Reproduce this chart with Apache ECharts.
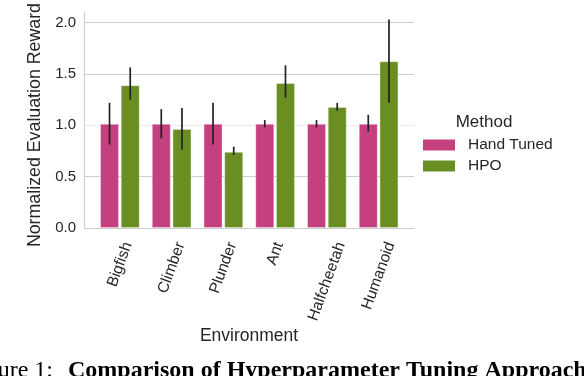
<!DOCTYPE html>
<html><head><meta charset="utf-8">
<script src="https://cdn.jsdelivr.net/npm/echarts@6/dist/echarts.min.js"></script>
<style>html,body{margin:0;padding:0;background:#fff}#c{width:584px;height:376px}</style>
</head><body><div id="c"></div>
<script>
// ---- data ----
const categories = ['Bigfish', 'Climber', 'Plunder', 'Ant', 'Halfcheetah', 'Humanoid'];
const seriesNames = ['Hand Tuned', 'HPO'];
const handTuned = [1.0, 1.0, 1.0, 1.0, 1.0, 1.0];
const handTunedLow = [0.80, 0.86, 0.80, 0.965, 0.965, 0.925];
const handTunedHigh = [1.20, 1.14, 1.20, 1.035, 1.035, 1.085];
const hpo = [1.37, 0.95, 0.73, 1.39, 1.16, 1.60];
const hpoLow = [1.23, 0.75, 0.70, 1.25, 1.125, 1.20];
const hpoHigh = [1.54, 1.15, 0.78, 1.56, 1.20, 2.00];
const yTickLabels = ['0.0', '0.5', '1.0', '1.5', '2.0'];
const yMax = 2.1;

// ---- styles ----
const SANS = '"Liberation Sans", Arial, sans-serif';
const SERIF = '"Liberation Serif", "Times New Roman", serif';
const INK = '#262626';
const GRID_COLOR = '#cccccc';
const PINK = '#C4407F';
const GREEN = '#6B8E23';
const ERR = '#222222';
const BAR_W = 19, BAR_GAP_PX = 1.7;
const TICK_FS = 15.5, LABEL_ROT = 70, LABEL_PAD = 12;

const mctx = document.createElement('canvas').getContext('2d');
function textW(t, fs, fam) { mctx.font = fs + 'px ' + fam; return mctx.measureText(t).width; }

function errRenderer(sign) {
  return function (params, api) {
    const i = api.value(0);
    const lo = api.coord([i, api.value(1)]);
    const hi = api.coord([i, api.value(2)]);
    const x = lo[0] + sign * (BAR_W + BAR_GAP_PX) / 2;
    return { type: 'line', shape: { x1: x, y1: lo[1], x2: x, y2: hi[1] },
      style: { stroke: ERR, lineWidth: 1.7 } };
  };
}

const chart = echarts.init(document.getElementById('c'), null, { renderer: 'canvas' });
chart.setOption({
  animation: false,
  backgroundColor: '#ffffff',
  grid: [
    { left: 84, right: 170, top: 9, bottom: 148 },
    { left: 94, right: 179.5, top: 9, bottom: 148 }
  ],
  xAxis: [
    { gridIndex: 0, type: 'value', min: 0, max: 1,
      axisLine: { show: true, lineStyle: { color: GRID_COLOR, width: 1 } },
      axisTick: { show: false }, axisLabel: { show: false }, splitLine: { show: false },
      name: 'Environment', nameLocation: 'middle', nameGap: 99,
      nameTextStyle: { fontSize: 17.5, color: INK, fontFamily: SANS } },
    { gridIndex: 1, type: 'category', data: categories,
      axisLine: { show: false }, axisTick: { show: false }, axisLabel: { show: false }, splitLine: { show: false } }
  ],
  yAxis: [
    { gridIndex: 0, type: 'value', min: 0, max: yMax, interval: 0.5,
      axisLine: { show: true, lineStyle: { color: GRID_COLOR, width: 1 } },
      axisTick: { show: false },
      axisLabel: { color: INK, fontSize: 15, fontFamily: SANS, margin: 8, showMaxLabel: false,
        formatter: v => { const k = Math.round(v / 0.5); return Math.abs(v - k * 0.5) < 1e-9 ? (yTickLabels[k] || '') : ''; } },
      splitLine: { show: true, showMaxLine: false,
        lineStyle: { color: [GRID_COLOR, GRID_COLOR, '#ebebeb', GRID_COLOR, GRID_COLOR, GRID_COLOR], width: 1 } },
      name: 'Normalized Evaluation Reward', nameLocation: 'middle', nameGap: 35,
      nameTextStyle: { fontSize: 17.8, color: INK, fontFamily: SANS, padding: [0, 10, 0, 0] } },
    { gridIndex: 1, type: 'value', min: 0, max: yMax, show: false, splitLine: { show: false } }
  ],
  legend: {
    orient: 'vertical', left: 418, top: 132, itemWidth: 32, itemHeight: 11, itemGap: 5,
    icon: 'rect', data: seriesNames,
    itemStyle: { borderWidth: 0 },
    textStyle: { fontSize: 15.5, color: INK, fontFamily: SANS, padding: [0, 0, 0, 8] }
  },
  graphic: [
    { type: 'text', x: 484, y: 122, style: { text: 'Method', fontSize: 17, fontFamily: SANS, fill: INK, align: 'center', verticalAlign: 'middle' } },
    { type: 'text', x: 53, y: 371, style: { text: 'Figure 1:', fontSize: 24, fontFamily: SERIF, fill: '#000', align: 'right', verticalAlign: 'middle' } },
    { type: 'text', x: 68, y: 371, style: { text: 'Comparison of Hyperparameter Tuning Approaches', fontSize: 24, fontWeight: 'bold', fontFamily: SERIF, fill: '#000', align: 'left', verticalAlign: 'middle' } }
  ],
  series: [
    { name: seriesNames[0], type: 'bar', xAxisIndex: 1, yAxisIndex: 1, data: handTuned,
      barWidth: BAR_W, barGap: (BAR_GAP_PX / BAR_W * 100) + '%',
      itemStyle: { color: PINK, borderColor: 'rgba(255,255,255,0.35)', borderWidth: 1 } },
    { name: seriesNames[1], type: 'bar', xAxisIndex: 1, yAxisIndex: 1, data: hpo,
      barWidth: BAR_W, barGap: (BAR_GAP_PX / BAR_W * 100) + '%',
      itemStyle: { color: GREEN, borderColor: 'rgba(255,255,255,0.35)', borderWidth: 1 } },
    { type: 'custom', xAxisIndex: 1, yAxisIndex: 1, silent: true, z: 5,
      data: categories.map((c, i) => [i, handTunedLow[i], handTunedHigh[i]]),
      renderItem: errRenderer(-1) },
    { type: 'custom', xAxisIndex: 1, yAxisIndex: 1, silent: true, z: 5,
      data: categories.map((c, i) => [i, hpoLow[i], hpoHigh[i]]),
      renderItem: errRenderer(1) },
    { type: 'custom', xAxisIndex: 1, yAxisIndex: 1, silent: true, clip: false,
      data: categories.map((c, i) => [i, 0]),
      renderItem: function (params, api) {
        const i = api.value(0);
        const p = api.coord([i, 0]);
        const name = categories[i];
        const L = textW(name, TICK_FS, SANS);
        const h = TICK_FS;
        const a = LABEL_ROT * Math.PI / 180;
        const cy = p[1] + LABEL_PAD + (L / 2) * Math.sin(a) + (h / 2) * Math.cos(a);
        return { type: 'text', x: p[0], y: cy, rotation: a,
          style: { text: name, fontSize: TICK_FS, fontFamily: SANS, fill: INK, align: 'center', verticalAlign: 'middle' } };
      } }
  ]
});
</script>
</body></html>
